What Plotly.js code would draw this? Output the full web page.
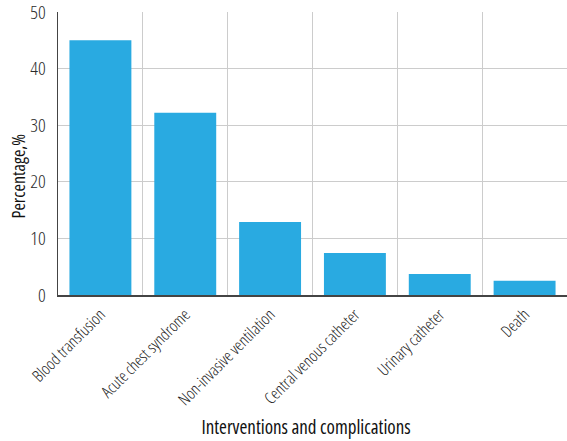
<!DOCTYPE html>
<html>
<head>
<meta charset="utf-8">
<script src="https://cdn.plot.ly/plotly-3.0.1.min.js"></script>
<style>
html,body{margin:0;padding:0;background:#fff;}
#chart{width:567px;height:441px;}
#chart text{font-stretch:condensed !important;}
</style>
</head>
<body>
<div id="chart"></div>
<script>
var categories = ["Blood transfusion", "Acute chest syndrome", "Non-invasive ventilation", "Central venous catheter", "Urinary catheter", "Death"];
var percentages = [45, 32.2, 12.9, 7.4, 3.7, 2.5];
var yTicks = [0, 10, 20, 30, 40, 50];
var xTitle = 'Interventions and complications';
var yTitle = 'Percentage,%';

var FONT = '"Open Sans", "Roboto Condensed", sans-serif';

var trace = {
  type: 'bar',
  x: categories,
  y: percentages,
  marker: {color: '#29aae1'},
  hoverinfo: 'x+y'
};

var layout = {
  width: 567,
  height: 441,
  margin: {l: 58, r: 0, t: 12, b: 146},
  paper_bgcolor: '#ffffff',
  plot_bgcolor: '#ffffff',
  bargap: 0.27,
  showlegend: false,
  font: {family: FONT, color: '#222', size: 16},
  xaxis: {
    tickangle: -45,
    tickson: 'boundaries',
    showgrid: true,
    gridcolor: '#cccccc',
    gridwidth: 1,
    showline: true,
    linecolor: '#444',
    linewidth: 1.5,
    ticks: '',
    ticklabelstandoff: 2,
    tickfont: {family: FONT, size: 16.5, color: '#222', weight: 300},
    automargin: false
  },
  yaxis: {
    range: [0, 50],
    tickvals: yTicks,
    showgrid: true,
    gridcolor: '#cccccc',
    gridwidth: 1,
    zeroline: false,
    showline: true,
    linecolor: '#444',
    linewidth: 1.5,
    ticks: '',
    ticklabelstandoff: 7,
    ticklabeloverflow: 'allow',
    tickfont: {family: FONT, size: 19, color: '#2a2a2a', weight: 300},
    automargin: false
  },
  annotations: [
    {text: xTitle, xref: 'paper', yref: 'paper', x: 0.488, y: -0.468, xanchor: 'center', yanchor: 'middle',
     showarrow: false, font: {family: FONT, size: 19, color: '#111'}},
    {text: yTitle, xref: 'paper', yref: 'paper', x: -0.0786, y: 0.42, xanchor: 'center', yanchor: 'middle',
     textangle: -90, showarrow: false, font: {family: FONT, size: 18, color: '#111'}}
  ]
};

Plotly.newPlot('chart', [trace], layout, {displayModeBar: false, staticPlot: true});
</script>
</body>
</html>
